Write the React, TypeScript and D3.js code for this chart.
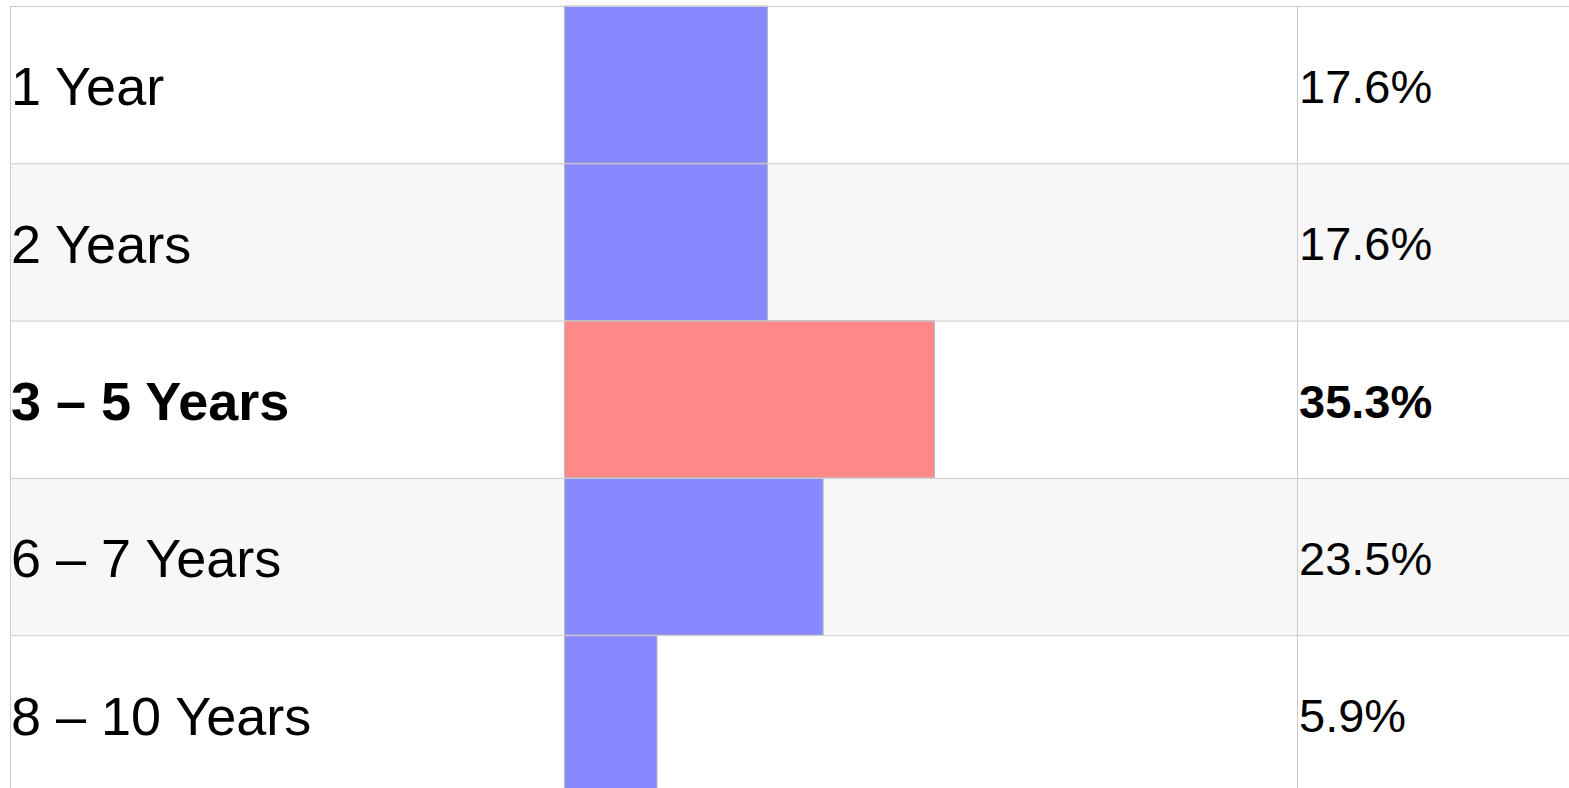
import * as d3 from "d3";

const categories = ["1 Year", "2 Years", "3 – 5 Years", "6 – 7 Years", "8 – 10 Years"];
const shares = [17.6, 17.6, 35.3, 23.5, 5.9];
const highlighted = ["3 – 5 Years"];

const width = 1569;
const height = 788;
const top = 6;
const rowH = 157.3;
const labelX = 10;
const barX = 564.5;
const valueX = 1297.5;
const labelSize = 54;
const valueSize = 47;

export default function App() {
  const y = d3
    .scaleBand<string>()
    .domain(categories)
    .range([top, top + rowH * categories.length])
    .padding(0);

  // bars don't start from zero width, the table pads them a bit
  const x = d3.scaleLinear().domain([-3.9, 35.3]).range([barX, 934.5]);
  const fmt = (v: number) => `${v.toFixed(1)}%`;
  const base = (y0: number, fs: number) => y0 + y.bandwidth() / 2 + 0.358 * fs + 1.5;

  return (
    <svg
      width={width}
      height={height}
      style={{ position: "absolute", left: 0, top: 0, display: "block" }}
      fontFamily="'Liberation Sans', Arial, sans-serif"
    >
      <rect width={width} height={height} fill="#fff" />
      {categories.map((c, i) => {
        const y0 = y(c)!;
        const bold = highlighted.includes(c);
        return (
          <g key={c}>
            <rect
              x={labelX}
              y={y0}
              width={width - labelX}
              height={y.bandwidth()}
              fill={i % 2 === 1 ? "#f7f7f7" : "#fff"}
            />
            <rect
              x={barX}
              y={y0}
              width={x(shares[i]) - barX}
              height={y.bandwidth()}
              fill={bold ? "#ff8888" : "#8888ff"}
              stroke="#b8b8b8"
              strokeWidth={1}
            />
            <text
              x={labelX + 1}
              y={base(y0, labelSize)}
              fontSize={labelSize}
              fontWeight={bold ? "bold" : "normal"}
              fill="#000"
            >
              {c}
            </text>
            <text
              x={valueX + 1.5}
              y={base(y0, valueSize)}
              fontSize={valueSize}
              fontWeight={bold ? "bold" : "normal"}
              fill="#000"
            >
              {fmt(shares[i])}
            </text>
          </g>
        );
      })}
      {/* grid lines */}
      {categories.map((c) => (
        <line
          key={`h-${c}`}
          x1={labelX}
          x2={width}
          y1={y(c)! + 0.5}
          y2={y(c)! + 0.5}
          stroke="#cccccc"
        />
      ))}
      <line x1={labelX + 0.5} x2={labelX + 0.5} y1={top} y2={height} stroke="#cccccc" />
      <line x1={valueX} x2={valueX} y1={top} y2={height} stroke="#cccccc" />
    </svg>
  );
}
